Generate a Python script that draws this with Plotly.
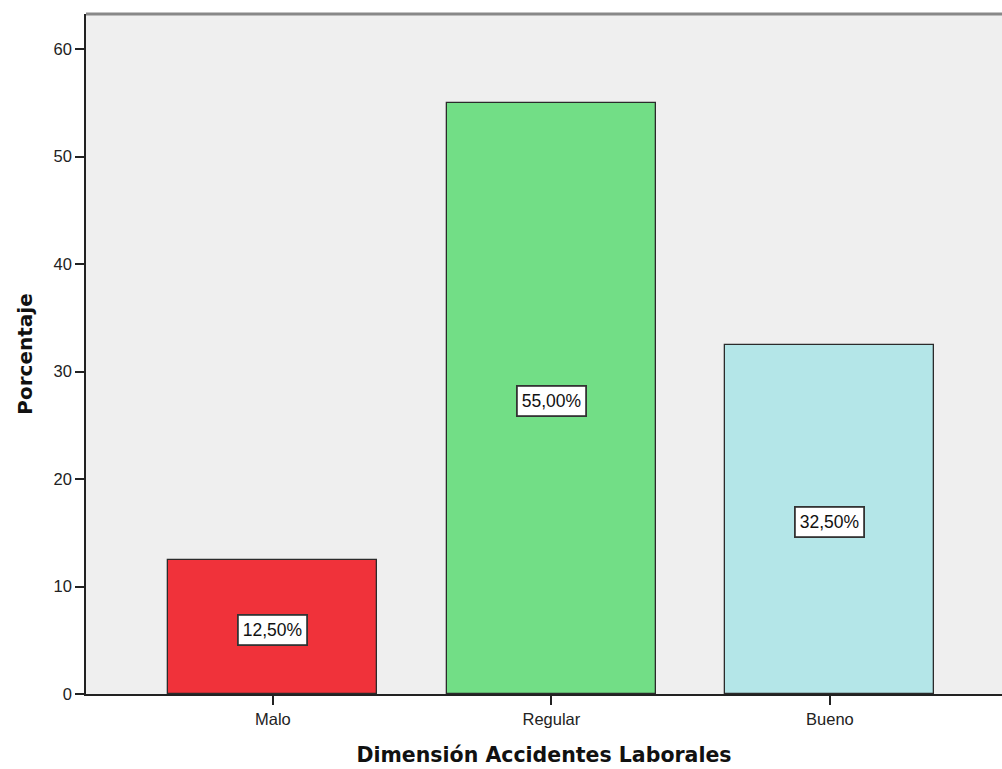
import plotly.graph_objects as go

categories = ["Malo", "Regular", "Bueno"]
values = [12.5, 55.0, 32.5]
labels = ["12,50%", "55,00%", "32,50%"]
colors = ["#f0323a", "#72de86", "#b4e6e8"]
y_ticks = [0, 10, 20, 30, 40, 50, 60]

fig = go.Figure()
fig.add_trace(go.Bar(
    x=categories, y=values, width=0.75,
    marker=dict(color=colors, line=dict(color="#2b2b2b", width=1.3)),
    hoverinfo="skip",
))

for c, v, t in zip(categories, values, labels):
    fig.add_annotation(
        x=c, y=v / 2, text=t, showarrow=False, yshift=-3,
        font=dict(family="Arial, Liberation Sans", size=17.5, color="#111"),
        bgcolor="#ffffff", bordercolor="#333333", borderwidth=1.8, borderpad=4,
    )

fig.add_shape(type="line", xref="paper", yref="paper", x0=0, x1=1, y0=1, y1=1,
              line=dict(color="#888888", width=3))

fig.update_layout(
    width=1002, height=769,
    margin=dict(l=86, r=0, t=14, b=75),
    paper_bgcolor="white", plot_bgcolor="#efefef",
    showlegend=False, bargap=0,
    font=dict(family="Arial, Liberation Sans", color="#333"),
)
fig.update_xaxes(
    range=[-0.671, 2.618], showgrid=False,
    showline=True, linecolor="#222", linewidth=1.5,
    ticks="outside", ticklen=9, tickcolor="#222", tickwidth=1.5,
    tickfont=dict(size=16.5, color="#222"),
    title=dict(text="Dimensión Accidentes Laborales", standoff=21,
               font=dict(family="DejaVu Sans", size=20.5, color="#111", weight="bold")),
)
fig.update_yaxes(
    range=[0, 63.26], tickvals=y_ticks, showgrid=False, zeroline=False,
    showline=True, linecolor="#222", linewidth=1.5,
    ticks="outside", ticklen=9, tickcolor="#222", tickwidth=1.5,
    tickfont=dict(size=16.5, color="#222"),
    title=dict(text="Porcentaje", standoff=16,
               font=dict(family="DejaVu Sans", size=20, color="#111", weight="bold")),
)

fig.write_html("out.html")
